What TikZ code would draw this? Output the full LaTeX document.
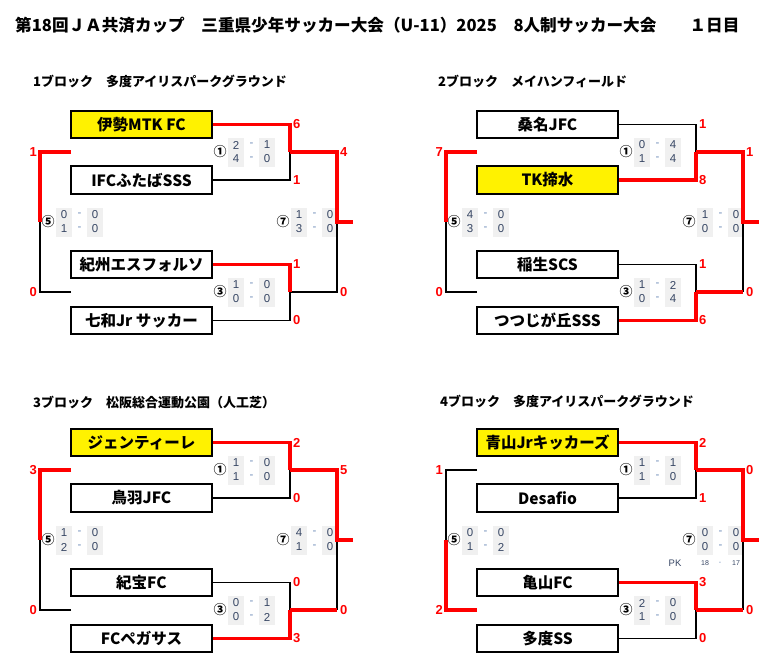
\documentclass[tikz,border=0pt]{standalone}
\usepackage{fontspec}
\newfontfamily\jp{Noto Sans CJK JP}
\newfontfamily\ar{Liberation Sans}
\definecolor{tabgrey}{RGB}{240,240,240}
\definecolor{tabtext}{RGB}{55,70,100}
\definecolor{tabdash}{RGB}{110,140,185}
\newcommand{\sctab}[8]{%
 \node[tabcol] (#1L) at (#3+8,#4) {};
 \node[tabcol] (#1R) at (#3+39,#4) {};
 \node[circ] (#1c) at (#3-8,#4) {#2};
 \node[tabnum] (#1a) at (#3+8,#4-7) {#5};
 \node[tabnum] (#1b) at (#3+39,#4-7) {#6};
 \node[tabnum] (#1e) at (#3+8,#4+7) {#7};
 \node[tabnum] (#1f) at (#3+39,#4+7) {#8};
 \node[tabdsh] (#1g) at (#3+23.5,#4-7) {-};
 \node[tabdsh] (#1h) at (#3+23.5,#4+7) {-};
}
\begin{document}
\begin{tikzpicture}[x=1pt,y=-1pt,
 team/.style={draw, line width=1.6pt, fill=white, minimum width=141pt, minimum height=27.5pt, inner sep=0pt, font=\jp\bfseries\fontsize{15.5}{15.5}\selectfont},
 teamy/.style={team, fill=yellow},
 win/.style={draw=red, line width=3.6pt},
 lose/.style={draw=black, line width=1.6pt},
 sc/.style={text=red, font=\ar\bfseries\fontsize{13}{13}\selectfont, inner sep=0pt},
 scw/.style={sc, anchor=west},
 sce/.style={sc, anchor=east},
 tabcol/.style={fill=tabgrey, draw=none, minimum width=16pt, minimum height=29pt, inner sep=0pt},
 tabnum/.style={font=\ar\fontsize{11.5}{11.5}\selectfont, text=tabtext, inner sep=0pt},
 tabdsh/.style={font=\ar\fontsize{11.5}{11.5}\selectfont, text=tabdash, inner sep=0pt},
 circ/.style={font=\jp\bfseries\fontsize{13}{13}\selectfont, inner sep=0pt},
 head/.style={font=\jp\bfseries\fontsize{13}{13}\selectfont, anchor=west, inner sep=0pt}
]
\useasboundingbox[fill=white] (0,0) rectangle (775,667);
\node[anchor=west, inner sep=0pt, font=\jp\bfseries\fontsize{16.6}{16.6}\selectfont] (title) at (15,25) {第18回ＪＡ共済カップ　三重県少年サッカー大会（U-11）2025　8人制サッカー大会　　１日目};

% ---------------- Block 1
\begin{scope}
\node[head] (Ah) at (33,81) {1ブロック　多度アイリスパークグラウンド};
\sctab{At1}{①}{228}{152}{2}{1}{4}{0}
\sctab{At3}{③}{228}{292}{1}{0}{0}{0}
\sctab{At5}{⑤}{56}{222}{0}{0}{1}{0}
\sctab{At7}{⑦}{291}{222}{1}{0}{3}{0}
\node[teamy] (A1) at (141.5,124.5) {伊勢MTK FC};
\node[team] (A2) at (141.5,180) {IFCふたばSSS};
\node[team] (A3) at (141.5,264.5) {紀州エスフォルソ};
\node[team] (A4) at (141.5,320.5) {七和Jr サッカー};
\coordinate (Aj1) at (290,152);
\coordinate (Aj3) at (290,292);
\coordinate (Af) at (337,222);
\coordinate (Afo) at (353,222);
\coordinate (Al) at (40,222);
\coordinate (Alt) at (71,152);
\coordinate (Alb) at (71,292);
\draw[lose] (A2.east) -| (Aj1);
\draw[lose] (A4.east) -| (Aj3);
\draw[lose] (Aj3) -| (Af);
\draw[lose] (Alb) -| (Al);
\draw[win] (A1.east) -| (Aj1);
\draw[win] (A3.east) -| (Aj3);
\draw[win] (Aj1) -| (Af) -- (Afo);
\draw[win] (Alt) -| (Al);
\node[scw] (As1) at (293,124.5) {6};
\node[scw] (As2) at (293,180) {1};
\node[scw] (As3) at (293,264.5) {1};
\node[scw] (As4) at (293,320.5) {0};
\node[scw] (As5) at (340,152) {4};
\node[scw] (As6) at (340,292) {0};
\node[sce] (As7) at (37,152) {1};
\node[sce] (As8) at (37,292) {0};
\end{scope}

% ---------------- Block 2
\begin{scope}[shift={(406,0)}]
\node[head] (Bh) at (32,81) {2ブロック　メイハンフィールド};
\sctab{Bt1}{①}{228}{152}{0}{4}{1}{4}
\sctab{Bt3}{③}{228}{292}{1}{2}{0}{4}
\sctab{Bt5}{⑤}{56}{222}{4}{0}{3}{0}
\sctab{Bt7}{⑦}{291}{222}{1}{0}{0}{0}
\node[team] (B1) at (141.5,124.5) {桑名JFC};
\node[teamy] (B2) at (141.5,180) {TK揥水};
\node[team] (B3) at (141.5,264.5) {稲生SCS};
\node[team] (B4) at (141.5,320.5) {つつじが丘SSS};
\coordinate (Bj1) at (290,152);
\coordinate (Bj3) at (290,292);
\coordinate (Bf) at (337,222);
\coordinate (Bfb) at (337,292);
\coordinate (Bfo) at (353,222);
\coordinate (Bl) at (40,222);
\coordinate (Blt) at (71,152);
\coordinate (Blb) at (71,292);
\draw[lose] (B1.east) -| (Bj1);
\draw[lose] (B3.east) -| (Bj3);
\draw[lose] (Bfb) -- (Bf);
\draw[lose] (Blb) -| (Bl);
\draw[win] (B2.east) -| (Bj1);
\draw[win] (B4.east) -| (Bj3);
\draw[win] (Bj3) -- (Bfb);
\draw[win] (Bj1) -| (Bf) -- (Bfo);
\draw[win] (Blt) -| (Bl);
\node[scw] (Bs1) at (293,124.5) {1};
\node[scw] (Bs2) at (293,180) {8};
\node[scw] (Bs3) at (293,264.5) {1};
\node[scw] (Bs4) at (293,320.5) {6};
\node[scw] (Bs5) at (340,152) {1};
\node[scw] (Bs6) at (340,292) {0};
\node[sce] (Bs7) at (37,152) {7};
\node[sce] (Bs8) at (37,292) {0};
\end{scope}

% ---------------- Block 3
\begin{scope}[shift={(0,318)}]
\node[head] (Ch) at (33,84) {3ブロック　松阪総合運動公園（人工芝）};
\sctab{Ct1}{①}{228}{152}{1}{0}{1}{0}
\sctab{Ct3}{③}{228}{292}{0}{1}{0}{2}
\sctab{Ct5}{⑤}{56}{222}{1}{0}{2}{0}
\sctab{Ct7}{⑦}{291}{222}{4}{0}{1}{0}
\node[teamy] (C1) at (141.5,124.5) {ジェンティーレ};
\node[team] (C2) at (141.5,180) {鳥羽JFC};
\node[team] (C3) at (141.5,264.5) {紀宝FC};
\node[team] (C4) at (141.5,320.5) {FCペガサス};
\coordinate (Cj1) at (290,152);
\coordinate (Cj3) at (290,292);
\coordinate (Cf) at (337,222);
\coordinate (Cfb) at (337,292);
\coordinate (Cfo) at (353,222);
\coordinate (Cl) at (40,222);
\coordinate (Clt) at (71,152);
\coordinate (Clb) at (71,292);
\draw[lose] (C2.east) -| (Cj1);
\draw[lose] (C3.east) -| (Cj3);
\draw[lose] (Cfb) -- (Cf);
\draw[lose] (Clb) -| (Cl);
\draw[win] (C1.east) -| (Cj1);
\draw[win] (C4.east) -| (Cj3);
\draw[win] (Cj3) -- (Cfb);
\draw[win] (Cj1) -| (Cf) -- (Cfo);
\draw[win] (Clt) -| (Cl);
\node[scw] (Cs1) at (293,124.5) {2};
\node[scw] (Cs2) at (293,180) {0};
\node[scw] (Cs3) at (293,264.5) {0};
\node[scw] (Cs4) at (293,320.5) {3};
\node[scw] (Cs5) at (340,152) {5};
\node[scw] (Cs6) at (340,292) {0};
\node[sce] (Cs7) at (37,152) {3};
\node[sce] (Cs8) at (37,292) {0};
\end{scope}

% ---------------- Block 4
\begin{scope}[shift={(406,318)}]
\node[head] (Dh) at (34,83) {4ブロック　多度アイリスパークグラウンド};
\sctab{Dt1}{①}{228}{152}{1}{1}{1}{0}
\sctab{Dt3}{③}{228}{292}{2}{0}{1}{0}
\sctab{Dt5}{⑤}{56}{222}{0}{0}{1}{2}
\sctab{Dt7}{⑦}{291}{222}{0}{0}{0}{0}
\node[tabnum, font=\ar\fontsize{9.5}{9.5}\selectfont] (Dpk) at (269,245) {PK};
\node[tabnum, font=\ar\fontsize{7}{7}\selectfont] (Dpk1) at (299,245) {18};
\node[tabdsh, font=\ar\fontsize{7}{7}\selectfont] (Dpk2) at (314,245) {-};
\node[tabnum, font=\ar\fontsize{7}{7}\selectfont] (Dpk3) at (330,245) {17};
\node[teamy] (D1) at (141.5,124.5) {青山Jrキッカーズ};
\node[team] (D2) at (141.5,180) {Desafio};
\node[team] (D3) at (141.5,264.5) {亀山FC};
\node[team] (D4) at (141.5,320.5) {多度SS};
\coordinate (Dj1) at (290,152);
\coordinate (Dj3) at (290,292);
\coordinate (Df) at (337,222);
\coordinate (Dfb) at (337,292);
\coordinate (Dfo) at (353,222);
\coordinate (Dl) at (40,222);
\coordinate (Dlt) at (71,152);
\coordinate (Dlb) at (71,292);
\draw[lose] (D2.east) -| (Dj1);
\draw[lose] (D4.east) -| (Dj3);
\draw[lose] (Dfb) -- (Df);
\draw[lose] (Dlt) -| (Dl);
\draw[win] (D1.east) -| (Dj1);
\draw[win] (D3.east) -| (Dj3);
\draw[win] (Dj3) -- (Dfb);
\draw[win] (Dj1) -| (Df) -- (Dfo);
\draw[win] (Dlb) -| (Dl);
\node[scw] (Ds1) at (293,124.5) {2};
\node[scw] (Ds2) at (293,180) {1};
\node[scw] (Ds3) at (293,264.5) {3};
\node[scw] (Ds4) at (293,320.5) {0};
\node[scw] (Ds5) at (340,152) {0};
\node[scw] (Ds6) at (340,292) {0};
\node[sce] (Ds7) at (37,152) {1};
\node[sce] (Ds8) at (37,292) {2};
\end{scope}
\end{tikzpicture}
\end{document}
